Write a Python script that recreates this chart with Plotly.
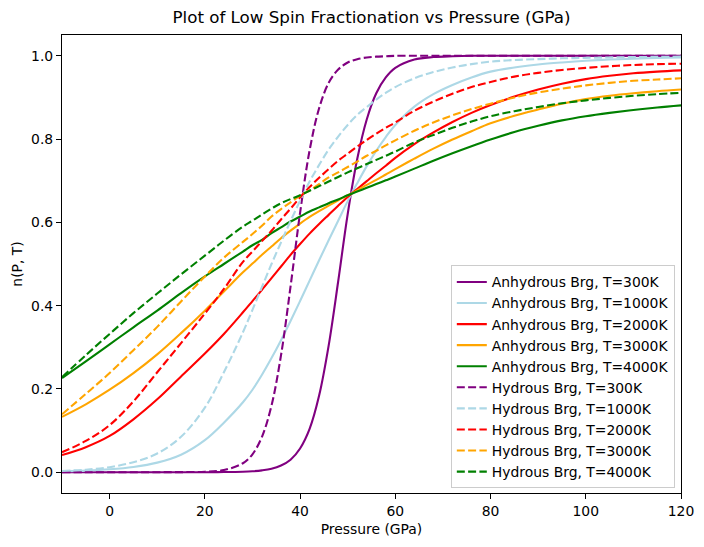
import plotly.graph_objects as go

# pressure grid (GPa)
pressure = [-10, -5, 0, 5, 10, 15, 20, 24, 28, 30, 32, 34, 36, 38, 40, 42, 44, 46, 48, 50,
            52, 54, 56, 58, 60, 64, 68, 72, 76, 80, 85, 90, 95, 100, 105, 110, 115, 120]

# anhydrous bridgmanite
anh_300 = [0.0, 0.0, 0.0, 0.0, 0.0, 0.0, 0.0, 0.0004, 0.0012, 0.0022, 0.0043, 0.0082, 0.016, 0.03, 0.057,
           0.104, 0.184, 0.304, 0.458, 0.62, 0.752, 0.847, 0.91, 0.948, 0.971, 0.991, 0.997, 0.999, 1.0,
           1.0, 1.0, 1.0, 1.0, 1.0, 1.0, 1.0, 1.0, 1.0]
anh_1000 = [0.002, 0.0037, 0.0069, 0.0126, 0.023, 0.042, 0.077, 0.119, 0.168, 0.198, 0.234, 0.274, 0.317,
            0.363, 0.411, 0.46, 0.509, 0.557, 0.604, 0.651, 0.694, 0.735, 0.772, 0.805, 0.834, 0.878,
            0.908, 0.93, 0.948, 0.962, 0.972, 0.979, 0.984, 0.988, 0.991, 0.993, 0.995, 0.996]
anh_2000 = [0.041, 0.06, 0.087, 0.127, 0.175, 0.23, 0.285, 0.332, 0.384, 0.411, 0.438, 0.466, 0.494,
            0.522, 0.548, 0.573, 0.596, 0.618, 0.64, 0.661, 0.68, 0.699, 0.718, 0.736, 0.755, 0.788,
            0.816, 0.841, 0.863, 0.882, 0.902, 0.919, 0.933, 0.944, 0.952, 0.958, 0.962, 0.965]
anh_3000 = [0.133, 0.163, 0.198, 0.238, 0.283, 0.334, 0.388, 0.434, 0.48, 0.501, 0.522, 0.542, 0.562,
            0.58, 0.597, 0.613, 0.627, 0.64, 0.653, 0.665, 0.677, 0.69, 0.702, 0.715, 0.728, 0.753,
            0.777, 0.799, 0.819, 0.838, 0.856, 0.871, 0.885, 0.896, 0.904, 0.91, 0.915, 0.919]
anh_4000 = [0.226, 0.266, 0.307, 0.348, 0.388, 0.43, 0.47, 0.5, 0.53, 0.545, 0.558, 0.574, 0.588,
            0.602, 0.614, 0.626, 0.636, 0.646, 0.655, 0.665, 0.674, 0.683, 0.692, 0.701, 0.71, 0.729,
            0.748, 0.766, 0.783, 0.799, 0.817, 0.832, 0.845, 0.855, 0.863, 0.87, 0.876, 0.881]

# hydrous bridgmanite
hyd_300 = [0.0, 0.0, 0.0, 0.0, 0.0, 0.0002, 0.0012, 0.0052, 0.0215, 0.043, 0.085, 0.16, 0.281, 0.446,
           0.623, 0.773, 0.874, 0.935, 0.967, 0.984, 0.992, 0.996, 0.998, 0.999, 1.0, 1.0, 1.0, 1.0, 1.0,
           1.0, 1.0, 1.0, 1.0, 1.0, 1.0, 1.0, 1.0, 1.0]
hyd_1000 = [0.003, 0.006, 0.012, 0.024, 0.045, 0.085, 0.155, 0.24, 0.336, 0.39, 0.445, 0.5, 0.552,
            0.603, 0.652, 0.698, 0.738, 0.775, 0.806, 0.834, 0.858, 0.877, 0.895, 0.911, 0.925, 0.946,
            0.961, 0.972, 0.98, 0.986, 0.99, 0.992, 0.994, 0.995, 0.996, 0.997, 0.9975, 0.998]
hyd_2000 = [0.048, 0.075, 0.113, 0.17, 0.24, 0.31, 0.381, 0.44, 0.505, 0.53, 0.555, 0.58, 0.607,
            0.633, 0.66, 0.685, 0.707, 0.728, 0.748, 0.765, 0.782, 0.798, 0.813, 0.827, 0.84, 0.868,
            0.89, 0.909, 0.925, 0.937, 0.95, 0.959, 0.966, 0.971, 0.975, 0.978, 0.98, 0.981]
hyd_3000 = [0.139, 0.188, 0.238, 0.293, 0.349, 0.41, 0.47, 0.515, 0.553, 0.572, 0.592, 0.614, 0.632,
            0.648, 0.664, 0.677, 0.692, 0.708, 0.72, 0.733, 0.746, 0.76, 0.772, 0.785, 0.797, 0.82,
            0.84, 0.857, 0.872, 0.885, 0.9, 0.912, 0.921, 0.929, 0.935, 0.94, 0.943, 0.946]
hyd_4000 = [0.228, 0.281, 0.332, 0.382, 0.429, 0.475, 0.52, 0.556, 0.59, 0.604, 0.619, 0.633, 0.646,
            0.656, 0.665, 0.676, 0.687, 0.698, 0.709, 0.72, 0.73, 0.74, 0.75, 0.76, 0.77, 0.792,
            0.81, 0.827, 0.842, 0.855, 0.867, 0.877, 0.886, 0.893, 0.899, 0.904, 0.908, 0.911]

temps = [300, 1000, 2000, 3000, 4000]
colors = ["purple", "lightblue", "red", "orange", "green"]
anhydrous = [anh_300, anh_1000, anh_2000, anh_3000, anh_4000]
hydrous = [hyd_300, hyd_1000, hyd_2000, hyd_3000, hyd_4000]

FONT = "DejaVu Sans"

fig = go.Figure()
for T, c, y in zip(temps, colors, anhydrous):
    fig.add_trace(go.Scatter(x=pressure, y=y, mode="lines", name="Anhydrous Brg, T=%dK" % T,
                             line=dict(color=c, width=2.1, shape="spline", smoothing=1.0)))
for T, c, y in zip(temps, colors, hydrous):
    fig.add_trace(go.Scatter(x=pressure, y=y, mode="lines", name="Hydrous Brg, T=%dK" % T,
                             line=dict(color=c, width=2.1, dash="8px,3.3px", shape="spline", smoothing=1.0)))

axis_style = dict(showgrid=False, zeroline=False, showline=True, mirror=True, linecolor="black",
                  linewidth=1.1, ticks="outside", ticklen=5, tickwidth=1.1, tickcolor="black",
                  automargin=False, tickfont=dict(family=FONT, size=13.9, color="black"))

fig.update_xaxes(range=[-10, 120], tickvals=[0, 20, 40, 60, 80, 100, 120],
                 title=dict(text="Pressure (GPa)", font=dict(family=FONT, size=13.9, color="black"), standoff=6),
                 **axis_style)
fig.update_yaxes(range=[-0.05, 1.05], tickvals=[0, 0.2, 0.4, 0.6, 0.8, 1.0], tickformat=".1f",
                 title=dict(text="n(P, T)", font=dict(family=FONT, size=13.9, color="black"), standoff=5),
                 **axis_style)

# the page body adds an 8px offset, so the figure is a bit smaller than the window
fig.update_layout(
    width=696, height=539,
    margin=dict(l=54, r=23, t=27, b=54),
    plot_bgcolor="white", paper_bgcolor="white",
    title=dict(text="Plot of Low Spin Fractionation vs Pressure (GPa)", x=0.5, xref="paper",
               y=1 - 9 / 539, yref="container", yanchor="middle",
               font=dict(family=FONT, size=16.7, color="black")),
    legend=dict(x=0.99, y=0.01, xanchor="right", yanchor="bottom",
                bgcolor="rgba(255,255,255,0.8)", bordercolor="#cccccc", borderwidth=1,
                font=dict(family=FONT, size=13.9, color="black"), itemwidth=30),
    showlegend=True,
)

fig.write_html("out.html")
